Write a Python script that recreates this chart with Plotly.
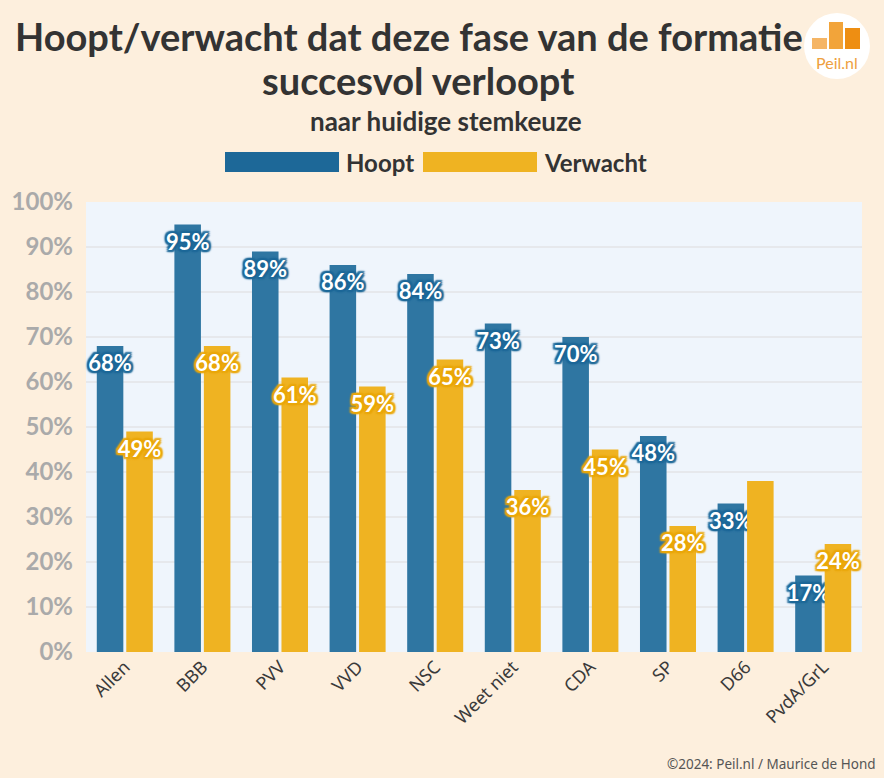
import plotly.graph_objects as go

categories = ["Allen", "BBB", "PVV", "VVD", "NSC", "Weet niet", "CDA", "SP", "D66", "PvdA/GrL"]
hoopt = [68, 95, 89, 86, 84, 73, 70, 48, 33, 17]
verwacht = [49, 68, 61, 59, 65, 36, 45, 28, 38, 24]
# label for D66 "Verwacht" is not shown in the original
verwacht_show = [True, True, True, True, True, True, True, True, False, True]
ytick_vals = [0, 10, 20, 30, 40, 50, 60, 70, 80, 90, 100]
ytick_text = [f"{v}%" for v in ytick_vals]

BLUE = "#2f76a2"
BLUE_DARK = "#1d6898"
YELLOW = "#efb322"
YELLOW_DARK = "#eaa70a"
PAPER = "#fdefdd"
PLOTBG = "#eff5fc"

W, H = 884, 778
L, R, T, B = 86, 22, 202, 126
PW, PH = W - L - R, H - T - B


def px(x):
    return (x - L) / PW


def py(y):
    return (H - B - y) / PH


def outline(c, r=2):
    parts = []
    for dx in (-r, 0, r):
        for dy in (-r, 0, r):
            if dx or dy:
                parts.append(f"{c} {dx}px {dy}px 1.5px")
    return ", ".join(parts)


fig = go.Figure()
fig.add_trace(go.Bar(
    name="Hoopt", x=categories, y=hoopt,
    marker=dict(color=BLUE, line=dict(width=0)),
    text=[f"{v}%" for v in hoopt],
    textposition="inside", insidetextanchor="end", textangle=0,
    constraintext="none", cliponaxis=False,
    textfont=dict(family="Lato", size=22, color="white", weight="bold",
                  shadow=outline(BLUE_DARK)),
    hoverinfo="skip",
))
fig.add_trace(go.Bar(
    name="Verwacht", x=categories, y=verwacht,
    marker=dict(color=YELLOW, line=dict(width=0)),
    text=[f"{v}%" if s else "" for v, s in zip(verwacht, verwacht_show)],
    textposition="inside", insidetextanchor="end", textangle=0,
    constraintext="none", cliponaxis=False,
    textfont=dict(family="Lato", size=22, color="white", weight="bold",
                  shadow=outline(YELLOW_DARK)),
    hoverinfo="skip",
))

shapes = []
annotations = []

# Title and subtitle
annotations.append(dict(text="<b>Hoopt/verwacht dat deze fase van de formatie</b>",
                        x=px(409), y=py(36), xref="paper", yref="paper", showarrow=False,
                        font=dict(family="Lato", size=38, color="#333333"), xanchor="center", yanchor="middle"))
annotations.append(dict(text="<b>succesvol verloopt</b>",
                        x=px(418), y=py(80), xref="paper", yref="paper", showarrow=False,
                        font=dict(family="Lato", size=38, color="#333333"), xanchor="center", yanchor="middle"))
annotations.append(dict(text="<b>naar huidige stemkeuze</b>",
                        x=px(446), y=py(121), xref="paper", yref="paper", showarrow=False,
                        font=dict(family="Lato", size=26, color="#333333"), xanchor="center", yanchor="middle"))

# Custom legend
shapes.append(dict(type="rect", xref="paper", yref="paper", x0=px(225), x1=px(339), y0=py(172), y1=py(152),
                   fillcolor=BLUE_DARK, line=dict(width=0), layer="above"))
annotations.append(dict(text="<b>Hoopt</b>", x=px(344), y=py(162), xref="paper", yref="paper", showarrow=False,
                        xanchor="left", yanchor="middle", font=dict(family="Lato", size=24, color="#333333")))
shapes.append(dict(type="rect", xref="paper", yref="paper", x0=px(423), x1=px(537), y0=py(172), y1=py(152),
                   fillcolor=YELLOW, line=dict(width=0), layer="above"))
annotations.append(dict(text="<b>Verwacht</b>", x=px(542), y=py(162), xref="paper", yref="paper", showarrow=False,
                        xanchor="left", yanchor="middle", font=dict(family="Lato", size=24, color="#333333")))

# Logo
shapes.append(dict(type="circle", xref="paper", yref="paper", x0=px(804), x1=px(870), y0=py(79), y1=py(13),
                   fillcolor="white", line=dict(width=0), layer="above"))
shapes.append(dict(type="rect", xref="paper", yref="paper", x0=px(812), x1=px(827), y0=py(49), y1=py(38),
                   fillcolor="#f5b565", line=dict(width=0), layer="above"))
shapes.append(dict(type="rect", xref="paper", yref="paper", x0=px(829), x1=px(843), y0=py(49), y1=py(22),
                   fillcolor="#f2a43a", line=dict(width=0), layer="above"))
shapes.append(dict(type="rect", xref="paper", yref="paper", x0=px(845), x1=px(860), y0=py(49), y1=py(28),
                   fillcolor="#ee8e12", line=dict(width=0), layer="above"))
annotations.append(dict(text="Peil.nl", x=px(837), y=py(62), xref="paper", yref="paper", showarrow=False,
                        xanchor="center", yanchor="middle", font=dict(family="Lato", size=16, color="#eea040")))

# Footer
annotations.append(dict(text="©2024: Peil.nl / Maurice de Hond", x=px(878), y=py(764), xref="paper", yref="paper",
                        showarrow=False, xanchor="right", yanchor="middle",
                        font=dict(family="Noto Sans", size=13.5, color="#555555")))

fig.update_layout(
    width=W, height=H,
    margin=dict(l=L, r=R, t=T, b=B, autoexpand=False),
    paper_bgcolor=PAPER, plot_bgcolor=PLOTBG,
    barmode="group", bargap=0.24, bargroupgap=0.1,
    showlegend=False,
    shapes=shapes, annotations=annotations,
    uniformtext=dict(mode=False),
    xaxis=dict(tickangle=-45, tickfont=dict(family="Noto Sans", size=18, color="#3a3a3a"),
               showgrid=False, showline=False, ticks="", fixedrange=True),
    yaxis=dict(range=[0, 100], tickvals=ytick_vals, ticktext=ytick_text,
               tickfont=dict(family="Lato", size=24, color="#aaaaaa", weight="bold"),
               gridcolor="#e6e8ec", gridwidth=1.5, zeroline=False, showline=False,
               ticklabelstandoff=12, fixedrange=True),
)

fig.write_html("out.html", config={"displayModeBar": False},
               post_script="document.body.style.margin='0';document.body.style.background='#fdefdd';")
